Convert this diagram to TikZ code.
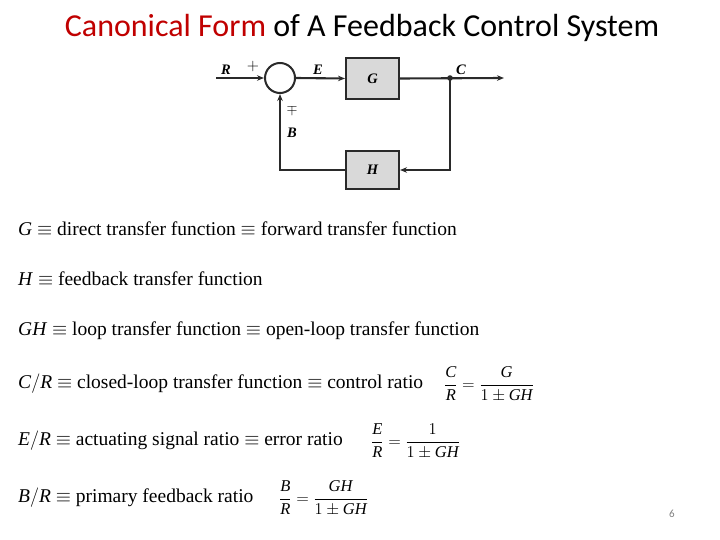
\RequirePackage{fix-cm}
\documentclass[tikz,border=0pt]{standalone}
\usepackage{amsmath}
\usepackage{fontspec}
\setmainfont{Liberation Serif}
\newfontfamily\titlefont{Carlito}
\usetikzlibrary{arrows.meta}
\definecolor{titlered}{HTML}{C00000}
\definecolor{linegray}{HTML}{2A2A2A}
\definecolor{boxfill}{HTML}{D9D9D9}
\begin{document}
\begin{tikzpicture}[x=1pt,y=-1pt,
  arr/.style={draw=linegray,line width=2.1pt,-{Stealth[length=7pt,width=5.5pt]}},
  blockbox/.style={draw=linegray,line width=2pt,fill=boxfill,minimum width=53pt,inner sep=0pt},
  sig/.style={font=\fontsize{14.5}{16}\selectfont\bfseries\itshape,inner sep=0pt},
  deftext/.style={font=\fontsize{19.5}{22}\selectfont,anchor=base west,inner sep=0pt},
  fracnode/.style={font=\fontsize{16.5}{19}\selectfont,anchor=base west,inner sep=0pt}]
\useasboundingbox (0,0) rectangle (720,540);
% title
\node[font=\titlefont\fontsize{32}{36}\selectfont] (title) at (362,28)
  {\textcolor{titlered}{Canonical Form} of A Feedback Control System};
% block diagram
\node[circle,draw=linegray,line width=2pt,minimum size=30pt,inner sep=0pt] (sum) at (280,78) {};
\node[blockbox,minimum height=41pt] (G) at (372.5,78.5) {\fontsize{14.5}{16}\selectfont\bfseries\itshape G};
\node[blockbox,minimum height=38pt] (H) at (372.5,170) {\fontsize{14.5}{16}\selectfont\bfseries\itshape H};
\coordinate (in) at (216,78);
\coordinate (out) at (504,78);
\coordinate (j) at (450,78);
\draw[arr] (in) -- (sum.west);
\draw[arr] (sum.east) -- (G.west);
\draw[arr] (G.east) -- (out);
\fill[linegray] (j) circle (2.8pt);
\draw[arr] (j) |- (H.east);
\draw[arr] (H.west) -| (sum.south);
\node[sig] (lR) at (226,70) {R};
\node[sig,font=\fontsize{16}{16}\selectfont] (lplus) at (253,67) {$+$};
\node[sig] (lE) at (318,70) {E};
\node[sig] (lC) at (461,70) {C};
\node[sig,font=\fontsize{14}{16}\selectfont] (lmp) at (292,110) {$\mp$};
\node[sig] (lB) at (292,133) {B};
% definitions
\node[deftext] (d1) at (18,236) {\textit{G} $\equiv$ direct transfer function $\equiv$ forward transfer function};
\node[deftext] (d2) at (18,285.5) {\textit{H} $\equiv$ feedback transfer function};
\node[deftext] (d3) at (18,335.5) {\textit{GH} $\equiv$ loop transfer function $\equiv$ open-loop transfer function};
\node[deftext] (d4) at (18,388.5) {\textit{C}$/$\textit{R} $\equiv$ closed-loop transfer function $\equiv$ control ratio};
\node[deftext] (d5) at (18,445.5) {\textit{E}$/$\textit{R} $\equiv$ actuating signal ratio $\equiv$ error ratio};
\node[deftext] (d6) at (18,502.5) {\textit{B}$/$\textit{R} $\equiv$ primary feedback ratio};
\node[fracnode] (f4) at (444,389) {$\dfrac{\textit{C}}{\textit{R}}=\dfrac{\textit{G}}{1\pm\textit{GH}}$};
\node[fracnode] (f5) at (371,446) {$\dfrac{\textit{E}}{\textit{R}}=\dfrac{1}{1\pm\textit{GH}}$};
\node[fracnode] (f6) at (279,503) {$\dfrac{\textit{B}}{\textit{R}}=\dfrac{\textit{GH}}{1\pm\textit{GH}}$};
% page number
\node[font=\titlefont\fontsize{11}{12}\selectfont,text=gray] (pg) at (672,514) {6};
\end{tikzpicture}
\end{document}
